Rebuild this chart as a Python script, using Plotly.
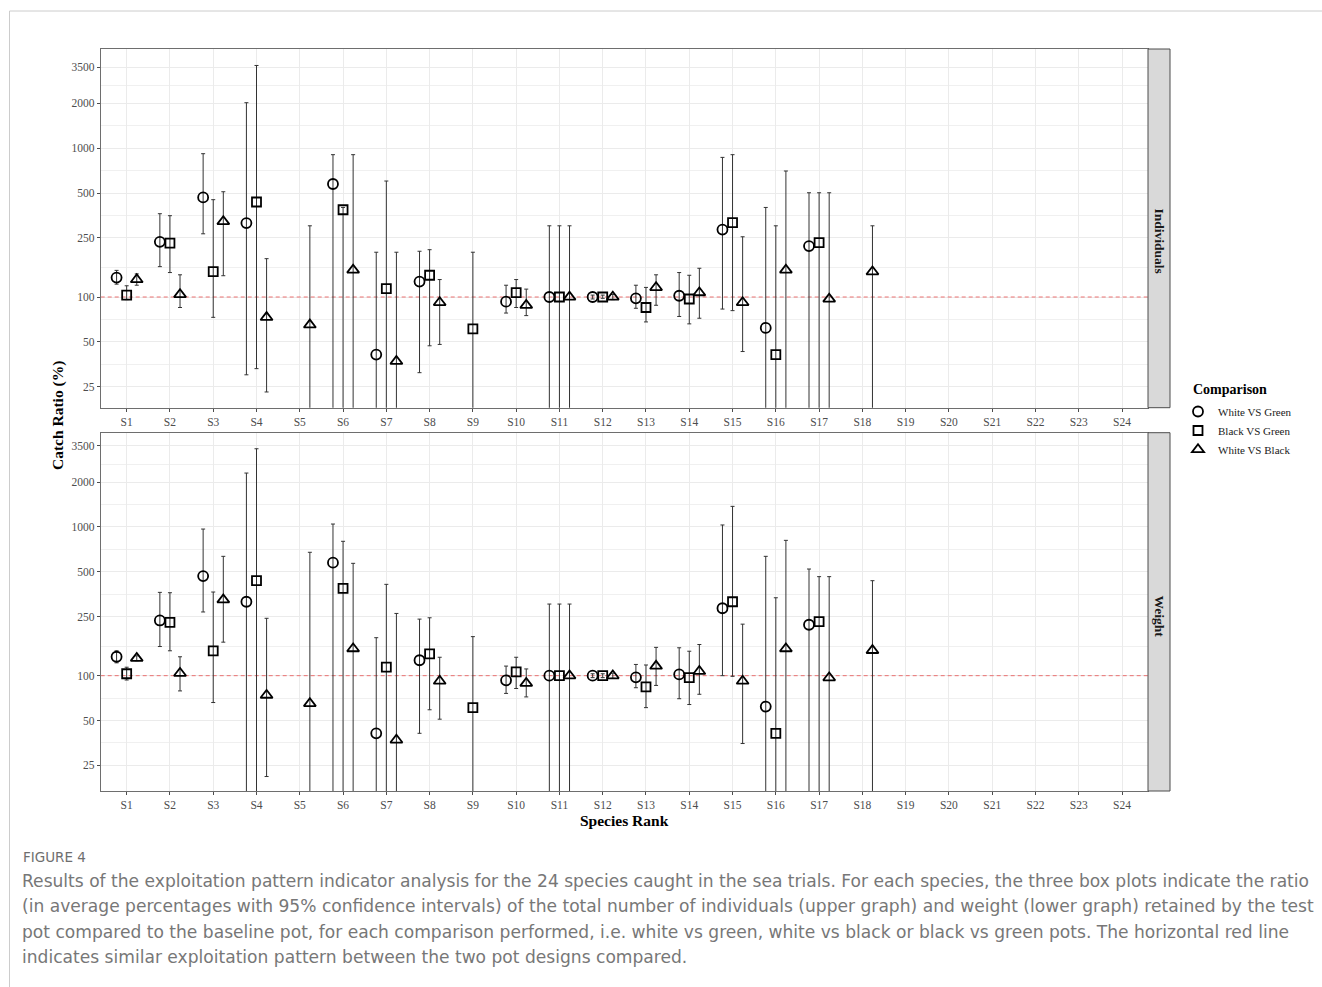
import plotly.graph_objects as go

# ---------------- data ----------------
species = ["S1", "S2", "S3", "S4", "S5", "S6", "S7", "S8", "S9", "S10", "S11", "S12",
           "S13", "S14", "S15", "S16", "S17", "S18", "S19", "S20", "S21", "S22", "S23", "S24"]
comparisons = ["White VS Green", "Black VS Green", "White VS Black"]
y_ticks = [25, 50, 100, 250, 500, 1000, 2000, 3500]
reference_ratio = 100

# Individuals (upper panel): mean, lower CI, upper CI  (0 = unbounded below)
ind_wg = [135, 235, 467, 314, None, 575, 41, 127, None, 93, 100, 100, 98, 102, 284, 62, 220, None]
ind_wg_lo = [122, 160, 266, 30, None, 0, 0, 31, None, 78, 0, 97, 84, 74, 83, 0, 0, None]
ind_wg_hi = [151, 363, 919, 2023, None, 905, 200, 203, None, 120, 301, 103, 120, 146, 868, 400, 502, None]

ind_bg = [103, 230, 148, 435, None, 386, 114, 140, 61, 107, 100, 100, 85, 97, 316, 41, 232, None]
ind_bg_lo = [96, 146, 73, 33, None, 0, 0, 47, 0, 85, 0, 98, 68, 66, 81, 0, 0, None]
ind_bg_hi = [119, 352, 451, 3600, None, 400, 602, 208, 200, 131, 301, 103, 116, 140, 905, 301, 502, None]

ind_wb = [131, 104, 322, 73, 65, 152, 37, 92, None, 88, 100, 100, 116, 107, 92, 152, 97, 148]
ind_wb_lo = [120, 85, 139, 23, 0, 0, 0, 48, None, 75, 0, 96, 88, 72, 43, 0, 0, 0]
ind_wb_hi = [143, 141, 510, 181, 301, 905, 200, 131, None, 113, 301, 104, 141, 156, 254, 703, 502, 301]

# Weight (lower panel)
wt_wg = [134, 235, 467, 314, None, 575, 41, 127, None, 93, 100, 100, 97.5, 102, 284, 62, 220, None]
wt_wg_lo = [122, 157, 268, 0, None, 0, 0, 41, None, 76, 0, 97, 83, 70, 100, 0, 0, None]
wt_wg_hi = [147, 363, 967, 2300, None, 1045, 180, 240, None, 116, 303, 103, 119, 154, 1030, 634, 521, None]

wt_bg = [103, 228, 147, 435, None, 386, 114, 140, 61, 106, 100, 100, 84, 97, 314, 41, 231, None]
wt_bg_lo = [93.5, 147, 66, 0, None, 0, 0, 59, 0, 82, 0, 97, 61, 64, 99, 0, 0, None]
wt_bg_hi = [114, 361, 365, 3350, None, 800, 411, 245, 183, 133, 303, 103, 118, 146, 1374, 334, 463, None]

wt_wb = [131, 104, 324, 74, 65, 152, 37, 92, None, 89, 100, 100, 116, 107, 92, 152, 97, 148]
wt_wb_lo = [126, 79, 168, 21, 0, 0, 0, 51, None, 72, 0, 96, 86, 75, 35, 0, 0, 0]
wt_wb_hi = [136, 134, 634, 243, 675, 569, 262, 133, None, 111, 303, 104, 155, 162, 222, 812, 463, 435]

caption_lines = [
    "Results of the exploitation pattern indicator analysis for the 24 species caught in the sea trials. For each species, the three box plots indicate the ratio",
    "(in average percentages with 95% confidence intervals) of the total number of individuals (upper graph) and weight (lower graph) retained by the test",
    "pot compared to the baseline pot, for each comparison performed, i.e. white vs green, white vs black or black vs green pots. The horizontal red line",
    "indicates similar exploitation pattern between the two pot designs compared.",
]

# ---------------- style ----------------
W, H = 1322, 987
SERIF = "Liberation Serif"
CAP_FONT = "DejaVu Sans"
symbols = ["circle-open", "square-open", "triangle-up-open"]
sizes = [10, 9, 10.5]
dodge = [-0.233, 0.0, 0.233]
x_dom = [100.7 / W, 1148 / W]
top_dom = [1 - 407.7 / H, 1 - 49 / H]
bot_dom = [1 - 791 / H, 1 - 432.7 / H]
top_range = [1.256, 3.667]
bot_range = [1.225, 3.633]

minor_vals = [(a * b) ** 0.5 for a, b in zip(y_ticks[:-1], y_ticks[1:])]

fig = go.Figure()

panels = [
    ("x", "y", [(ind_wg, ind_wg_lo, ind_wg_hi), (ind_bg, ind_bg_lo, ind_bg_hi), (ind_wb, ind_wb_lo, ind_wb_hi)], True),
    ("x2", "y2", [(wt_wg, wt_wg_lo, wt_wg_hi), (wt_bg, wt_bg_lo, wt_bg_hi), (wt_wb, wt_wb_lo, wt_wb_hi)], False),
]

for xa, ya, series, show_leg in panels:
    # reference line
    fig.add_trace(go.Scatter(
        x=[0.4, 24.6], y=[reference_ratio, reference_ratio], mode="lines",
        line=dict(color="rgba(232,80,80,0.8)", width=1, dash="4px,3px"),
        xaxis=xa, yaxis=ya, showlegend=False, hoverinfo="skip"))
    for k, (vals, lo, hi) in enumerate(series):
        xs, ys, up, dn = [], [], [], []
        for i, v in enumerate(vals):
            if v is None:
                continue
            xs.append(i + 1 + dodge[k])
            ys.append(v)
            up.append(hi[i] - v)
            dn.append(v - lo[i])
        fig.add_trace(go.Scatter(
            x=xs, y=ys, mode="markers", name=comparisons[k],
            marker=dict(symbol=symbols[k], size=sizes[k], color="black",
                        line=dict(color="black", width=1.8)),
            error_y=dict(type="data", symmetric=False, array=up, arrayminus=dn,
                         color="#333333", thickness=1, width=2),
            xaxis=xa, yaxis=ya, showlegend=show_leg))

axis_common = dict(
    showline=True, mirror=True, linecolor="#6e6e6e", linewidth=1,
    ticks="outside", ticklen=3, tickcolor="#4d4d4d", tickwidth=1,
    gridcolor="#ebebeb", gridwidth=1, zeroline=False,
    tickfont=dict(family=SERIF, size=11.5, color="#4d4d4d"),
)

xaxis_cfg = dict(axis_common, range=[0.4, 24.6], tickmode="array",
                 tickvals=list(range(1, 25)), ticktext=species, domain=x_dom)
yaxis_cfg = dict(axis_common, type="log", tickmode="array", tickvals=y_ticks,
                 ticktext=[str(t) for t in y_ticks],
                 minor=dict(tickmode="array", tickvals=minor_vals, showgrid=True,
                            gridcolor="#f0f0f0", gridwidth=1, ticks=""))

fig.update_layout(
    width=W, height=H, margin=dict(l=0, r=0, t=0, b=0),
    paper_bgcolor="white", plot_bgcolor="white",
    xaxis=dict(xaxis_cfg, anchor="y"),
    yaxis=dict(yaxis_cfg, domain=top_dom, range=top_range, anchor="x"),
    xaxis2=dict(xaxis_cfg, anchor="y2"),
    yaxis2=dict(yaxis_cfg, domain=bot_dom, range=bot_range, anchor="x2"),
    legend=dict(x=1178 / W, y=1 - 397 / H, xanchor="left", yanchor="top",
                font=dict(family=SERIF, size=11, color="#1a1a1a"),
                bgcolor="rgba(0,0,0,0)", tracegroupgap=0),
)

shapes = []
annotations = []
# strips
for dom, label, cy in [(top_dom, "Individuals", 241), (bot_dom, "Weight", 616)]:
    shapes.append(dict(type="rect", xref="paper", yref="paper",
                       x0=1148 / W, x1=1170 / W, y0=dom[0], y1=dom[1],
                       fillcolor="#d9d9d9", line=dict(color="#4d4d4d", width=1)))
    annotations.append(dict(xref="paper", yref="paper", x=1159.5 / W, y=1 - cy / H,
                            xanchor="center", yanchor="middle",
                            text="<b>" + label + "</b>", textangle=90, showarrow=False,
                            font=dict(family=SERIF, size=13.5, color="#1a1a1a")))

# axis titles
annotations.append(dict(xref="paper", yref="paper", x=58 / W, y=1 - 416 / H,
                        xanchor="center", yanchor="middle",
                        text="<b>Catch Ratio (%)</b>", textangle=-90, showarrow=False,
                        font=dict(family=SERIF, size=15.5, color="black")))
annotations.append(dict(xref="paper", yref="paper", x=624 / W, y=1 - 820 / H,
                        xanchor="center", yanchor="middle",
                        text="<b>Species Rank</b>", showarrow=False,
                        font=dict(family=SERIF, size=15.5, color="black")))
# legend title
annotations.append(dict(xref="paper", yref="paper", x=1191 / W, y=1 - 389 / H,
                        xanchor="left", yanchor="middle", text="<b>Comparison</b>", showarrow=False,
                        font=dict(family=SERIF, size=14, color="black")))

# caption
annotations.append(dict(xref="paper", yref="paper", x=21 / W, y=1 - 857 / H,
                        xanchor="left", yanchor="middle", text="FIGURE 4", showarrow=False,
                        font=dict(family=CAP_FONT, size=13.5, color="#6e6e6e")))
for j, line in enumerate(caption_lines):
    annotations.append(dict(xref="paper", yref="paper", x=20 / W, y=1 - (881 + 25.3 * j) / H,
                            xanchor="left", yanchor="middle", text=line, showarrow=False,
                            font=dict(family=CAP_FONT, size=17.1, color="#777777")))

# page decoration lines
shapes.append(dict(type="line", xref="paper", yref="paper", x0=9.5 / W, x1=9.5 / W,
                   y0=0, y1=1 - 11 / H, line=dict(color="#cccccc", width=1)))
shapes.append(dict(type="line", xref="paper", yref="paper", x0=9.5 / W, x1=1,
                   y0=1 - 11 / H, y1=1 - 11 / H, line=dict(color="#cccccc", width=1)))

fig.update_layout(shapes=shapes, annotations=annotations)
fig.write_html("out.html", config={"displayModeBar": False},
               post_script="document.body.style.margin='0px';document.body.style.overflow='hidden';")
